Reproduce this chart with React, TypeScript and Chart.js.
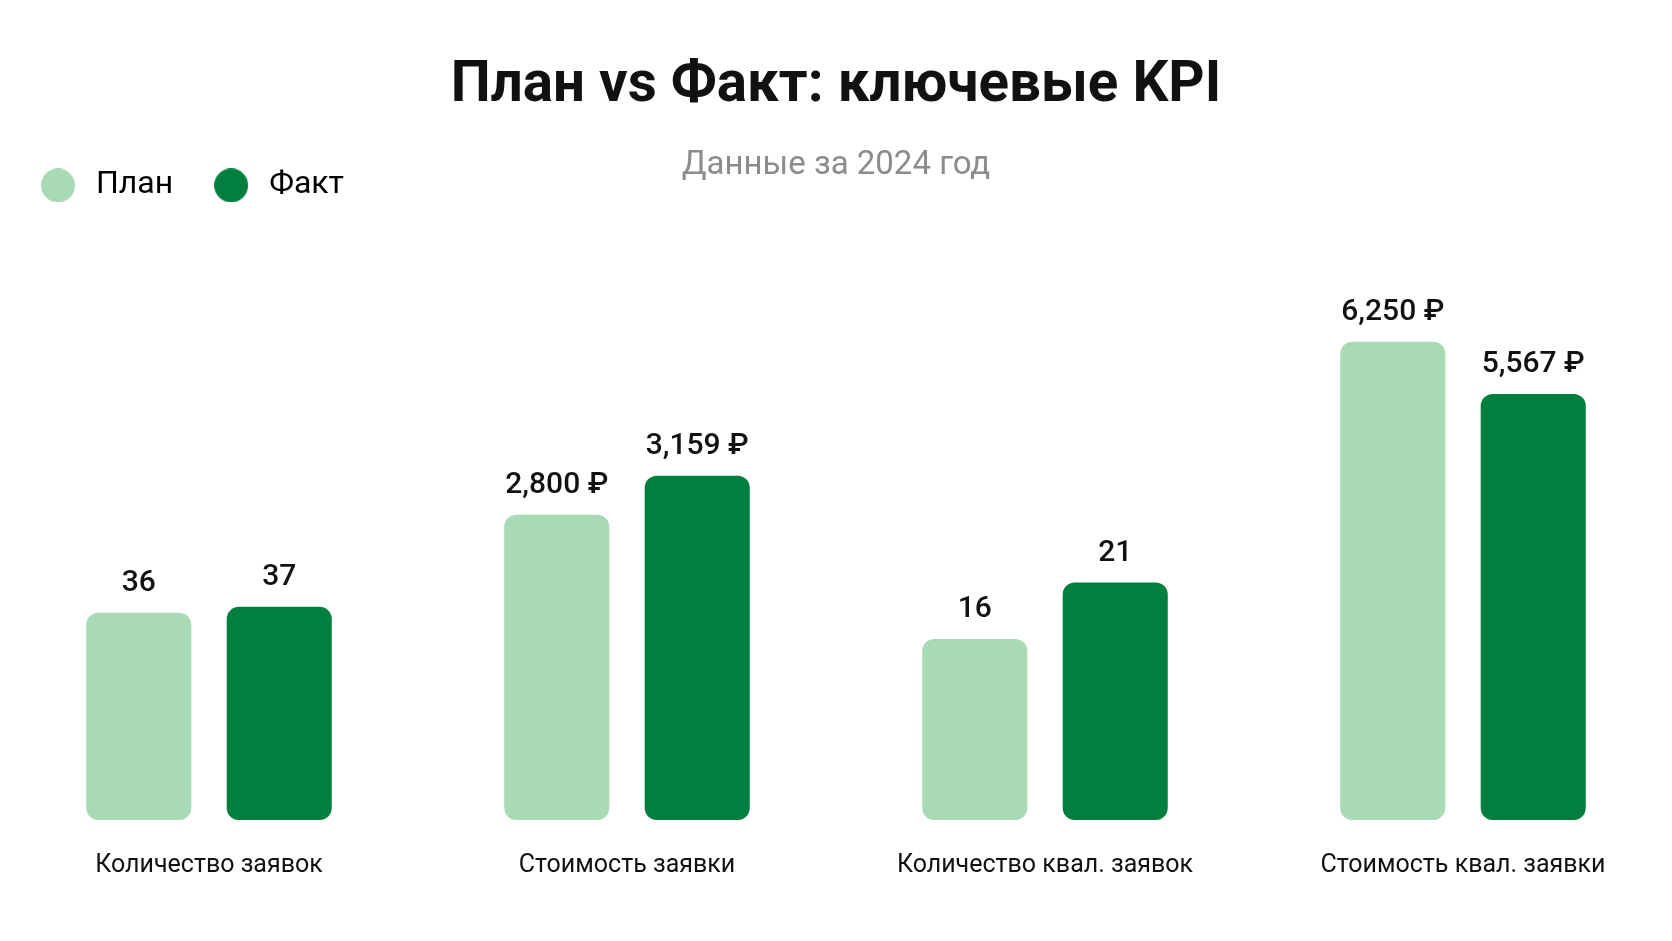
import React, { useEffect, useRef } from "react";
import { Chart, registerables } from "chart.js";

Chart.register(...registerables);

const categories = [
  "Количество заявок",
  "Стоимость заявки",
  "Количество квал. заявок",
  "Стоимость квал. заявки",
];
const planValues = [36, 2800, 16, 6250];
const factValues = [37, 3159, 21, 5567];
const valueSuffix = ["", " ₽", "", " ₽"];
// each KPI has its own hidden scale
const axisMax = [103.5, 5470, 52.7, 7790];

const PLAN_COLOR = "#a8dab5";
const FACT_COLOR = "#027f3f";
const FONT = "Roboto, 'Noto Sans', sans-serif";

// round legend marker, drawn as a small canvas so the gap to the text can be wider
const dot = (color: string) => {
  const c = document.createElement("canvas");
  c.width = 34;
  c.height = 34;
  const g = c.getContext("2d")!;
  g.fillStyle = color;
  g.beginPath();
  g.arc(17, 17, 17, 0, Math.PI * 2);
  g.fill();
  return c;
};

const valueLabels = {
  id: "valueLabels",
  afterDatasetsDraw(chart: any) {
    const ctx = chart.ctx;
    ctx.save();
    ctx.font = `500 30px ${FONT}`;
    ctx.fillStyle = "#111";
    ctx.textAlign = "center";
    ctx.textBaseline = "middle";
    chart.data.datasets.forEach((ds: any, di: number) => {
      const meta = chart.getDatasetMeta(di);
      meta.data.forEach((bar: any, i: number) => {
        const v = ds.data[i];
        if (v == null) return;
        ctx.fillText(v.toLocaleString("en-US") + valueSuffix[i], bar.x, bar.y - 29);
      });
    });
    ctx.restore();
  },
};

const App: React.FC = () => {
  const canvasRef = useRef<HTMLCanvasElement>(null);

  useEffect(() => {
    document.body.style.margin = "0";
    if (!canvasRef.current) return;
    const ctx = canvasRef.current.getContext("2d");
    if (!ctx) return;

    const datasets: any[] = [];
    const scales: any = {
      x: {
        grid: { display: false },
        border: { display: false },
        ticks: { color: "#111", padding: 35, font: { size: 25, family: FONT } },
      },
    };
    categories.forEach((_, i) => {
      const id = "y" + i;
      datasets.push({
        label: "План",
        data: categories.map((_, j) => (j === i ? planValues[i] : null)),
        backgroundColor: PLAN_COLOR,
        yAxisID: id,
      });
      datasets.push({
        label: "Факт",
        data: categories.map((_, j) => (j === i ? factValues[i] : null)),
        backgroundColor: FACT_COLOR,
        yAxisID: id,
      });
      scales[id] = { display: false, min: 0, max: axisMax[i] };
    });

    const chart = new Chart(ctx, {
      type: "bar",
      data: { labels: categories, datasets },
      options: {
        animation: false,
        responsive: true,
        maintainAspectRatio: false,
        layout: { padding: { bottom: 13 } },
        datasets: {
          bar: {
            skipNull: true,
            categoryPercentage: 0.672,
            barPercentage: 0.748,
            borderRadius: 12,
            borderSkipped: false,
          },
        },
        plugins: {
          title: {
            display: true,
            text: "План vs Факт: ключевые KPI",
            color: "#111",
            font: { size: 56.5, weight: "bold", family: FONT },
            padding: { top: 53, bottom: 25 },
          },
          subtitle: {
            display: true,
            text: "Данные за 2024 год",
            color: "#8c8c8c",
            font: { size: 33, family: FONT },
            padding: { top: 0, bottom: -52 },
          },
          legend: {
            display: true,
            position: "top",
            align: "start",
            labels: {
              usePointStyle: true,
              pointStyleWidth: 44,
              boxHeight: 32,
              padding: 36,
              color: "#111",
              font: { size: 32, family: FONT },
              generateLabels: () => [
                { text: "План", fillStyle: PLAN_COLOR, strokeStyle: PLAN_COLOR, lineWidth: 0, pointStyle: dot(PLAN_COLOR), hidden: false, datasetIndex: 0 },
                { text: "Факт", fillStyle: FACT_COLOR, strokeStyle: FACT_COLOR, lineWidth: 0, pointStyle: dot(FACT_COLOR), hidden: false, datasetIndex: 1 },
              ],
            },
            onClick: () => {},
          },
          tooltip: { enabled: false },
        },
        scales,
      } as any,
      plugins: [valueLabels],
    });

    return () => {
      chart.destroy();
    };
  }, []);

  return (
    <div style={{ width: 1672, height: 941, background: "#fff" }}>
      <canvas ref={canvasRef}></canvas>
    </div>
  );
};

export default App;
